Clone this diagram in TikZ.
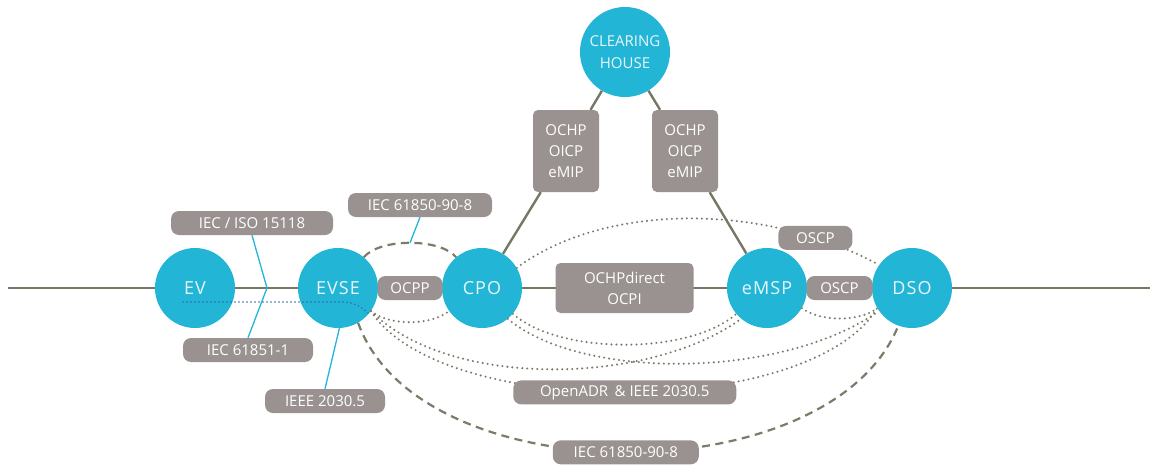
\documentclass[tikz,border=0pt]{standalone}
\usepackage{fontspec}
\setmainfont{Open Sans}
\newfontfamily\espacada[LetterSpace=6]{Open Sans}
\usepackage{tikz}
\definecolor{azulEnt}{RGB}{35,181,214}
\definecolor{cinzaRot}{RGB}{154,146,145}
\definecolor{oliva}{RGB}{118,120,100}
\definecolor{olivaClara}{RGB}{122,124,106}
\definecolor{azulEsc}{RGB}{45,110,165}
\definecolor{textoEnt}{RGB}{232,246,250}

\begin{document}
\begin{tikzpicture}[x=1pt,y=-1pt]
\tikzstyle{entidade}=[circle, fill=azulEnt, minimum size=80pt, inner sep=0pt, text=textoEnt, font=\espacada\fontsize{18}{20}\selectfont]
\tikzstyle{rotulo}=[rectangle, rounded corners=8pt, fill=cinzaRot, text=white, minimum height=24pt, inner xsep=8pt, inner ysep=0pt, font=\fontsize{15}{21}\selectfont]
\tikzstyle{caixa}=[rotulo, rounded corners=5pt, align=center]
\tikzstyle{linha}=[oliva, line width=2.4pt]
\tikzstyle{pontilhado}=[olivaClara, line width=2.3pt, line cap=round, dash pattern=on 0pt off 5pt]
\tikzstyle{tracejado}=[olivaClara, line width=2.2pt, dash pattern=on 8pt off 5.5pt]
\tikzstyle{azul}=[azulEnt, line width=1.3pt]
\tikzstyle{pontoazul}=[azulEsc, line width=1.8pt, line cap=round, dash pattern=on 0pt off 4pt]
\useasboundingbox (0,0) rectangle (1150,466);

\node[entidade] (EV) at (195,288) {EV};
\node[entidade] (EVSE) at (338,288) {EVSE};
\node[entidade] (CPO) at (482,288) {CPO};
\node[entidade] (eMSP) at (767,288) {eMSP};
\node[entidade] (DSO) at (912,288) {DSO};
\node[entidade, minimum size=90pt, align=center, font=\fontsize{15}{22}\selectfont] (CH) at (625,52) {CLEARING\\HOUSE};

\node[rotulo, minimum width=162pt] (iso) at (252,223) {IEC / ISO 15118};
\node[rotulo, minimum width=130pt] (iec61851) at (248,350) {IEC 61851-1};
\node[rotulo, minimum width=120pt] (ieee) at (325,401) {IEEE 2030.5};
\node[rotulo, minimum width=144pt] (iecA) at (420,205) {IEC 61850-90-8};
\node[caixa, minimum width=66pt, minimum height=82pt] (ochpA) at (566,151) {OCHP\\OICP\\eMIP};
\node[caixa, minimum width=66pt, minimum height=82pt] (ochpB) at (685,151) {OCHP\\OICP\\eMIP};

\coordinate (esq) at (8,288);
\coordinate (dir) at (1150,288);
\coordinate (vertice) at (267,288);

\draw[linha] (esq) -- (EV) -- (EVSE) -- node[rotulo, minimum width=65pt] (ocpp) {OCPP} (CPO)
  -- node[caixa, minimum width=138pt, minimum height=50pt] (ochpd) {OCHPdirect\\OCPI} (eMSP)
  -- node[rotulo, minimum width=66pt] (oscpA) {OSCP} (DSO) -- (dir);
\draw[linha] (CH) -- (ochpA) -- (CPO);
\draw[linha] (CH) -- (ochpB) -- (eMSP);

\draw[pontilhado] (EVSE.-35) .. controls (390,326) and (430,326) .. (CPO.-145);
\draw[tracejado] (EVSE.50) .. controls (380,238) and (440,238) .. coordinate[pos=0.5] (arcoTopo) (CPO.130);
\draw[pontilhado] (CPO.30) .. controls (600,205) and (760,200) .. node[rotulo, pos=0.83, minimum width=74pt] (oscpB) {OSCP} (DSO.145);
\draw[pontilhado] (CPO.-40) .. controls (560,355) and (690,355) .. (eMSP.-140);
\draw[pontilhado] (CPO.-50) .. controls (580,380) and (780,380) .. (DSO.-145);
\draw[pontilhado] (eMSP.-30) .. controls (820,322) and (860,322) .. (DSO.-150);
\draw[pontilhado] (EVSE.-35) .. controls (450,390) and (650,385) .. (eMSP.-130);
\draw[pontilhado] (EVSE.-35) .. controls (440,420) and (810,420) .. node[rotulo, minimum width=223pt] (openadr) {OpenADR \,\& IEEE 2030.5} (DSO.-150);
\draw[tracejado] (EVSE.-60) .. controls (420,495) and (830,495) .. node[rotulo, minimum width=146pt] (iecB) {IEC 61850-90-8} (DSO.-110);

\draw[azul] (iso.south) -- (vertice) -- (iec61851.north);
\draw[azul] (EVSE.-88) -- (ieee.north);
\draw[azul] (iecA.south) -- (arcoTopo);
\draw[pontoazul] ([shift={(-12,14)}]EV.center) -- ([shift={(6,14)}]EVSE.center) .. controls +(10,0) and +(-6,-6) .. (EVSE.-40);
\end{tikzpicture}
\end{document}
